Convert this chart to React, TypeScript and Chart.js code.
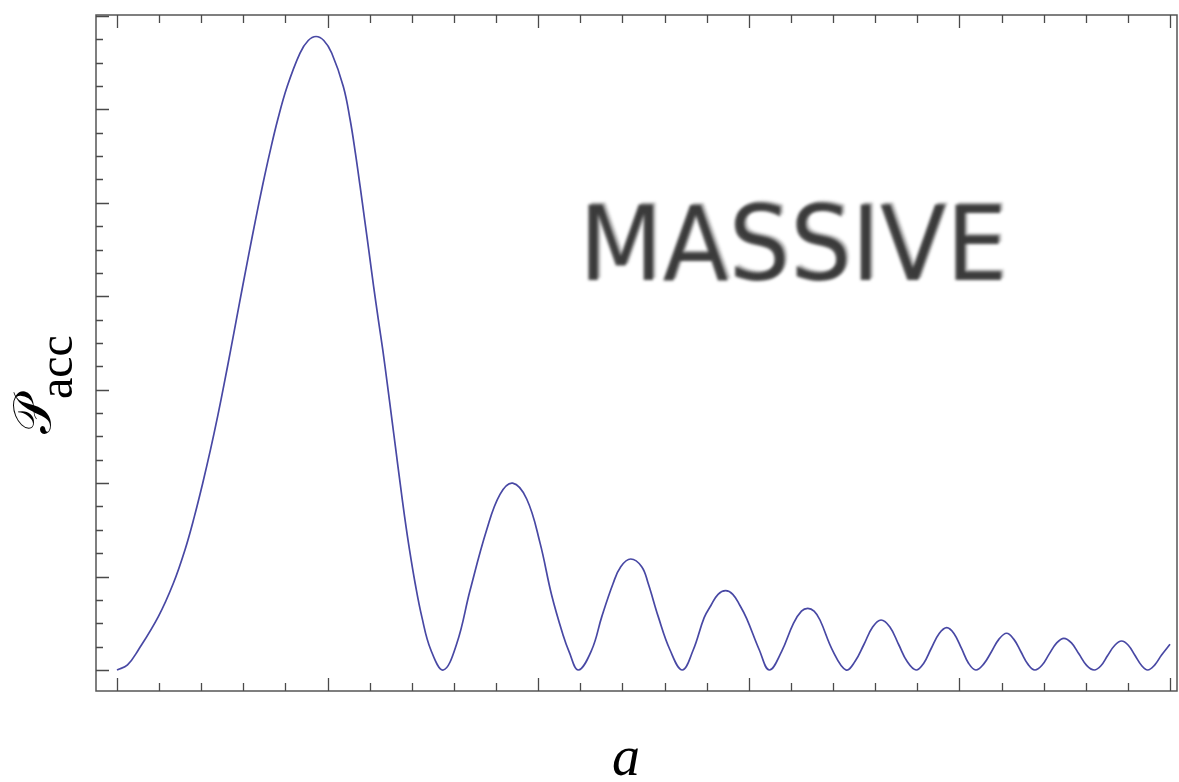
import React, { useEffect, useRef } from "react";
import { Chart, registerables } from "chart.js";

Chart.register(...registerables);

// Horizontal coordinate a (one unit per minor tick)
const aValues = [
  // main lobe
  0, 0.25, 0.506, 0.981, 1.338, 1.613, 1.836, 2.035, 2.218, 2.388, 2.547, 2.699, 2.833, 2.982,
  3.134, 3.289, 3.451, 3.625, 3.815, 4.04, 4.345, 4.54, 4.725, 4.91, 5.097, 5.373, 5.535, 5.66,
  5.772, 5.88, 5.987, 6.093, 6.205, 6.31, 6.415, 6.518, 6.62, 6.722, 6.828, 6.945, 7.078, 7.236,
  7.452, 7.747,
  // lobe 2
  8.065, 8.381, 8.777, 9.093, 9.394, 9.727, 10.043, 10.32, 10.6, 10.73, 10.952,
  // lobe 3
  11.27, 11.51, 11.78, 11.96, 12.196, 12.457, 12.61, 12.85, 13.13, 13.421,
  // lobe 4
  13.68, 13.94, 14.1, 14.27, 14.45, 14.62, 14.79, 14.95, 15.25, 15.487,
  // lobe 5
  15.78, 16.06, 16.25, 16.4, 16.55, 16.69, 17.0, 17.308,
  // lobe 6
  17.52, 17.73, 17.94, 18.14, 18.35, 18.56, 18.76, 18.97,
  // lobe 7
  19.15, 19.33, 19.52, 19.7, 19.87, 20.05, 20.22, 20.39,
  // lobe 8
  20.57, 20.76, 20.94, 21.12, 21.29, 21.46, 21.63, 21.79,
  // lobe 9
  21.96, 22.13, 22.31, 22.48, 22.66, 22.84, 23.02, 23.2,
  // lobe 10
  23.36, 23.52, 23.69, 23.85, 24.01, 24.17, 24.33, 24.47,
  // final rise
  24.63, 24.8, 25.0,
];

// P_acc values
const pValues = [
  // main lobe
  0, 0.055, 0.214, 0.571, 0.928, 1.285, 1.641, 1.999, 2.355, 2.712, 3.07, 3.426, 3.747, 4.104,
  4.461, 4.818, 5.175, 5.532, 5.889, 6.245, 6.603, 6.737, 6.78, 6.737, 6.603, 6.245, 5.889, 5.532,
  5.175, 4.818, 4.461, 4.104, 3.747, 3.426, 3.07, 2.712, 2.355, 1.999, 1.641, 1.285, 0.928, 0.571,
  0.214, 0,
  // lobe 2
  0.28, 0.85, 1.5, 1.88, 2.0, 1.83, 1.36, 0.8, 0.36, 0.2, 0,
  // lobe 3
  0.214, 0.571, 0.928, 1.106, 1.188, 1.106, 0.928, 0.571, 0.214, 0,
  // lobe 4
  0.214, 0.56, 0.69, 0.81, 0.849, 0.81, 0.69, 0.55, 0.214, 0,
  // lobe 5
  0.2, 0.5, 0.63, 0.66, 0.63, 0.535, 0.2, 0,
  // lobe 6
  0.09, 0.27, 0.46, 0.535, 0.46, 0.27, 0.09, 0,
  // lobe 7
  0.07, 0.23, 0.39, 0.453, 0.39, 0.23, 0.07, 0,
  // lobe 8
  0.06, 0.195, 0.33, 0.393, 0.33, 0.195, 0.06, 0,
  // lobe 9
  0.05, 0.17, 0.29, 0.339, 0.29, 0.17, 0.05, 0,
  // lobe 10
  0.045, 0.155, 0.265, 0.31, 0.265, 0.155, 0.045, 0,
  // final rise
  0.05, 0.16, 0.275,
];

const xTickValues = [0, 1, 2, 3, 4, 5, 6, 7, 8, 9, 10, 11, 12, 13, 14, 15, 16, 17, 18, 19, 20, 21, 22, 23, 24, 25];
const xMajorTicks = [0, 5, 10, 15, 20, 25];
const yTickValues = [
  0, 0.25, 0.5, 0.75, 1, 1.25, 1.5, 1.75, 2, 2.25, 2.5, 2.75, 3, 3.25, 3.5, 3.75, 4, 4.25, 4.5,
  4.75, 5, 5.25, 5.5, 5.75, 6, 6.25, 6.5, 6.75, 7,
];
const yMajorTicks = [0, 1, 2, 3, 4, 5, 6, 7];

const xLabel = "a";
const yLabelMain = "𝒫";
const yLabelSub = "acc";
const annotation = "MASSIVE";

const framePlugin = {
  id: "framePlugin",
  afterDraw(chart: any) {
    const ctx = chart.ctx as CanvasRenderingContext2D;
    const { left, right, top, bottom } = chart.chartArea;
    const xs = chart.scales.x;
    const ys = chart.scales.y;
    ctx.save();
    // frame
    ctx.strokeStyle = "#555";
    ctx.lineWidth = 1.5;
    ctx.strokeRect(left, top, right - left, bottom - top);
    // ticks
    ctx.lineWidth = 1.3;
    ctx.strokeStyle = "#4a4a4a";
    ctx.beginPath();
    xTickValues.forEach((v) => {
      const px = Math.round(xs.getPixelForValue(v)) + 0.5;
      const len = xMajorTicks.includes(v) ? 13 : 8;
      ctx.moveTo(px, bottom);
      ctx.lineTo(px, bottom - len);
      ctx.moveTo(px, top);
      ctx.lineTo(px, top + len);
    });
    yTickValues.forEach((v) => {
      const py = Math.round(ys.getPixelForValue(v)) + 0.5;
      const len = yMajorTicks.includes(v) ? 13 : 7;
      ctx.moveTo(left, py);
      ctx.lineTo(left + len, py);
    });
    ctx.stroke();

    // x label
    ctx.fillStyle = "#000";
    ctx.font = "italic 56px 'Liberation Serif', 'DejaVu Serif', serif";
    ctx.textAlign = "center";
    ctx.textBaseline = "alphabetic";
    ctx.fillText(xLabel, 626, 775);

    // y label (rotated)
    ctx.save();
    ctx.translate(50, 434);
    ctx.rotate(-Math.PI / 2);
    ctx.textAlign = "left";
    ctx.font = "52px 'DejaVu Serif', 'Liberation Serif', serif";
    ctx.fillText(yLabelMain, 0, 0);
    const w = ctx.measureText(yLabelMain).width;
    ctx.font = "48px 'Liberation Serif', 'DejaVu Serif', serif";
    ctx.fillText(yLabelSub, w - 2, 22);
    ctx.restore();

    // MASSIVE annotation (blurred, hand-drawn look)
    ctx.save();
    ctx.font = "103px 'DejaVu Sans', sans-serif";
    ctx.textAlign = "left";
    ctx.textBaseline = "alphabetic";
    const tw = ctx.measureText(annotation).width;
    const sx = 428 / tw;
    ctx.translate(579, 280);
    ctx.scale(sx, 1);
    ctx.filter = "blur(1.8px)";
    ctx.fillStyle = "rgba(30,30,30,0.82)";
    ctx.fillText(annotation, 0, 0);
    ctx.fillStyle = "rgba(30,30,30,0.3)";
    ctx.fillText(annotation, 3, -2);
    ctx.restore();

    ctx.restore();
  },
};

export default function App() {
  const ref = useRef<HTMLCanvasElement | null>(null);
  useEffect(() => {
    if (!ref.current) return;
    const data = aValues.map((a, i) => ({ x: a, y: pValues[i] }));
    const chart = new Chart(ref.current, {
      type: "line",
      data: {
        datasets: [
          {
            data,
            borderColor: "#4848a4",
            borderWidth: 1.7,
            pointRadius: 0,
            fill: false,
            tension: 0.4,
          },
        ],
      },
      options: {
        animation: false,
        responsive: false,
        devicePixelRatio: 1,
        layout: { padding: { left: 96, top: 15, right: 2, bottom: 91 } },
        plugins: { legend: { display: false }, tooltip: { enabled: false } },
        scales: {
          x: { type: "linear", min: -0.4986, max: 25.166, display: false },
          y: { type: "linear", min: -0.225, max: 7.01, display: false },
        },
      },
      plugins: [framePlugin],
    });
    return () => chart.destroy();
  }, []);
  return (
    <div style={{ position: "absolute", left: 0, top: 0, width: 1179, height: 782, background: "#fff" }}>
      <canvas ref={ref} width={1179} height={782} style={{ display: "block" }} />
    </div>
  );
}
